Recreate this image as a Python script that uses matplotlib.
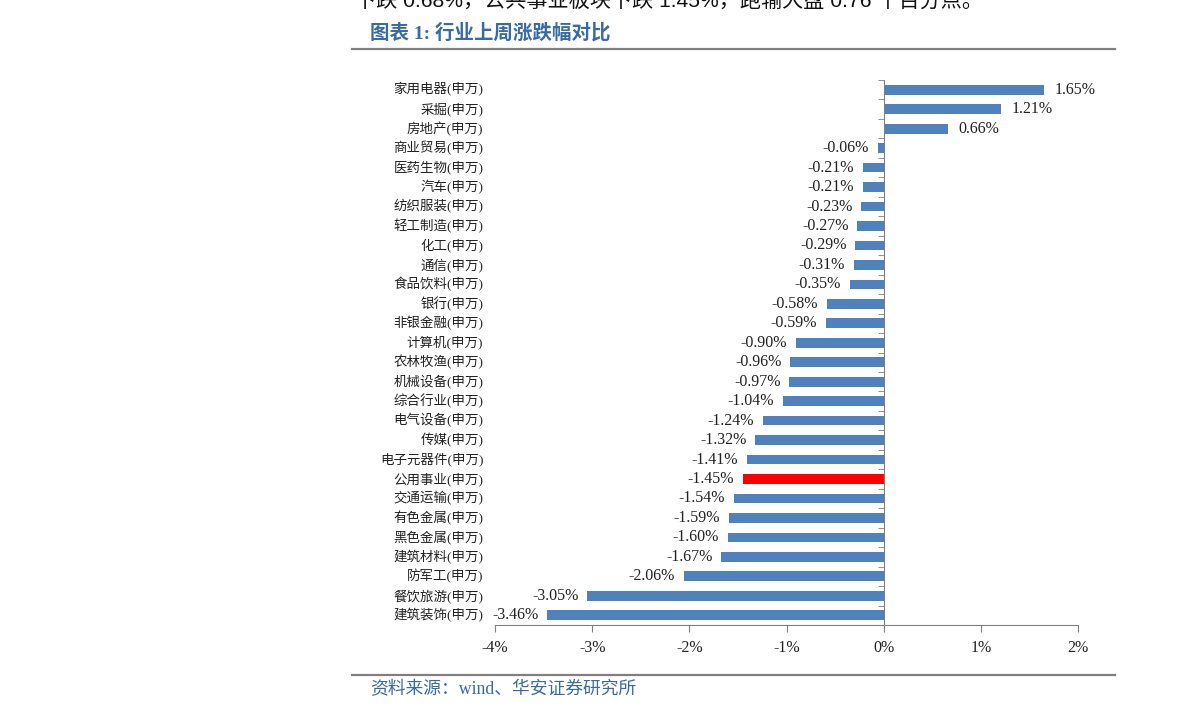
import numpy as np
import matplotlib
matplotlib.use("Agg")
from matplotlib import pyplot as plt
from matplotlib.lines import Line2D

plt.rcParams['axes.unicode_minus'] = False

# data
industries = ["家用电器", "采掘", "房地产", "商业贸易", "医药生物", "汽车", "纺织服装",
              "轻工制造", "化工", "通信", "食品饮料", "银行", "非银金融", "计算机",
              "农林牧渔", "机械设备", "综合行业", "电气设备", "传媒", "电子元器件",
              "公用事业", "交通运输", "有色金属", "黑色金属", "建筑材料", "防军工",
              "餐饮旅游", "建筑装饰"]
changes = [1.65, 1.21, 0.66, -0.06, -0.21, -0.21, -0.23, -0.27, -0.29, -0.31,
           -0.35, -0.58, -0.59, -0.90, -0.96, -0.97, -1.04, -1.24, -1.32, -1.41,
           -1.45, -1.54, -1.59, -1.60, -1.67, -2.06, -3.05, -3.46]
highlight = "公用事业"
x_ticks = [-4, -3, -2, -1, 0, 1, 2]
x_tick_labels = ["-4%", "-3%", "-2%", "-1%", "0%", "1%", "2%"]

serif = ['Liberation Serif', 'Noto Sans CJK SC']
sans = ['Liberation Sans', 'Noto Sans CJK SC']
blue = "#4f81bd"
title_blue = "#3a6aa3"
grey = "#808080"

fig = plt.figure(figsize=(11.91, 7.22), dpi=100)
ax = fig.add_axes([495/1191, 97/722, 583/1191, 545/722])

y = np.arange(len(industries))
colors = ["#ff0000" if name == highlight else blue for name in industries]
ax.barh(y, changes, height=0.5, color=colors, zorder=2)

ax.set_xlim(x_ticks[0], x_ticks[-1])
ax.set_ylim(len(industries) - 0.5, -0.5)

# value labels
for yi, v in zip(y, changes):
    off = 7.5 if v >= 0 else -6.5
    ax.annotate(f"{v:.2f}%", (v, yi), xytext=(off, 0), textcoords="offset points",
                ha="left" if v >= 0 else "right", va="center",
                fontsize=11.5, family=serif, color="#222222")

# category labels, at the left of the plot area
for yi, name in zip(y, industries):
    ax.text(-0.02, yi, name + "(申万)", transform=ax.get_yaxis_transform(),
            ha="right", va="center", fontsize=9.7, family=serif, color="#222222")

# axes styling
for s in ["top", "right"]:
    ax.spines[s].set_visible(False)
ax.spines["left"].set_position(("data", 0))
ax.spines["left"].set_color(grey)
ax.spines["bottom"].set_color(grey)
ax.set_yticks([])
ax.set_yticks(np.arange(len(industries) + 1) - 0.5, minor=True)
ax.tick_params(axis="y", which="minor", direction="out", length=4, color=grey,
               labelleft=False)
ax.set_xticks(x_ticks)
ax.set_xticklabels(x_tick_labels, family=serif, fontsize=11.5, color="#222222")
ax.tick_params(axis="x", direction="out", length=5, color=grey, pad=6)

# page decorations (the first line is cut by the page top, as in the source)
fig.text(355/1191, 1 - 2/722, "下跌 0.68%，公共事业板块下跌 1.45%，跑输大盘 0.76 个百分点。",
         family=sans, fontsize=15.2, va="center", ha="left", color="#111111")
fig.text(370/1191, 1 - 33/722, "图表 1: 行业上周涨跌幅对比", family=serif,
         fontsize=14, fontweight="bold", color=title_blue, va="center", ha="left")
fig.add_artist(Line2D([352/1191, 1115/1191], [1 - 49/722, 1 - 49/722],
                      transform=fig.transFigure, color=grey, lw=1.6))
fig.add_artist(Line2D([352/1191, 1115/1191], [1 - 675/722, 1 - 675/722],
                      transform=fig.transFigure, color=grey, lw=1.6))
fig.text(370/1191, 1 - 690/722, "资料来源：wind、华安证券研究所", family=serif,
         fontsize=12.8, color=title_blue, va="center", ha="left")

fig.savefig("out.png", dpi=100)
